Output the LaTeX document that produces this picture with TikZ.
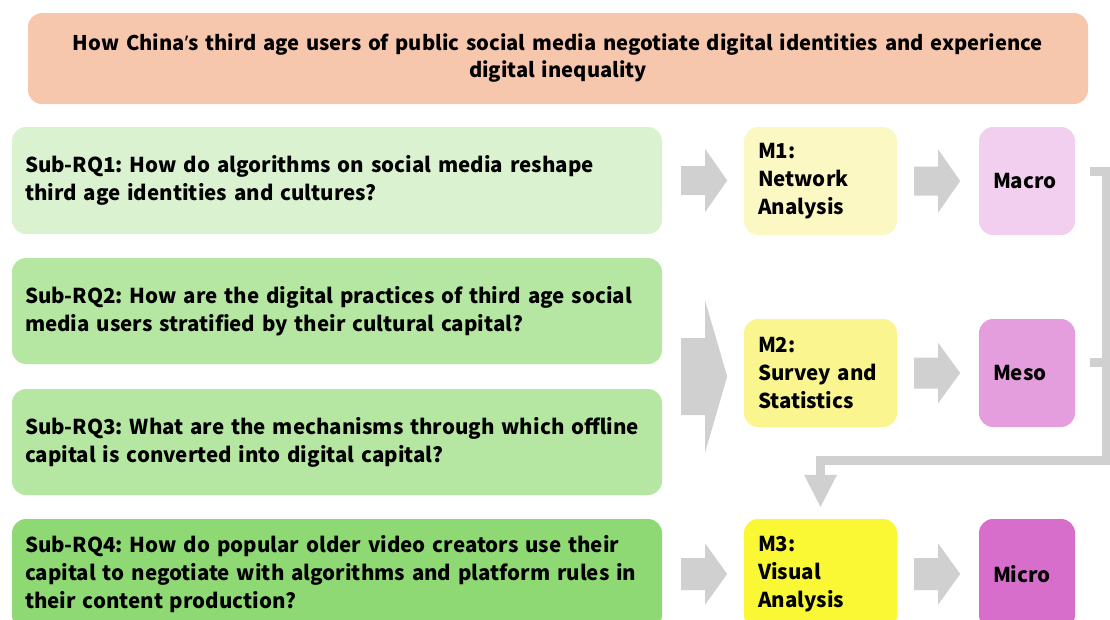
\documentclass[tikz,border=0pt]{standalone}
\usepackage{fontspec}
\setmainfont{Noto Sans CJK SC}
\newfontfamily\quotefont{Noto Sans}
\usetikzlibrary{arrows.meta,calc}

\definecolor{goalfill}{HTML}{F6C6AD}
\definecolor{rqA}{HTML}{DAF2D0}
\definecolor{rqB}{HTML}{B5E6A2}
\definecolor{rqC}{HTML}{8ED973}
\definecolor{mA}{HTML}{FBF8C4}
\definecolor{mB}{HTML}{FAF58E}
\definecolor{mC}{HTML}{FAF735}
\definecolor{lvA}{HTML}{F2CFEE}
\definecolor{lvB}{HTML}{E59EDD}
\definecolor{lvC}{HTML}{D86ECC}
\definecolor{arrowgrey}{HTML}{D0D0D0}

% block arrow: gap from anchor, anchor, half shaft, half head
\newcommand{\blockarrow}[4]{%
  \fill[arrowgrey] ($(#2)+(#1,-#3)$) -- ++(24,0) -- ++(0,#3-#4) -- ++(22,#4)
    -- ++(-22,#4) -- ++(0,#3-#4) -- ++(-24,0) -- cycle;}

\begin{document}
\frenchspacing
\begin{tikzpicture}[x=1pt,y=-1pt,
  txt/.style={font=\bfseries\fontsize{20.5}{28}\selectfont},
  box/.style={txt, rounded corners=14pt, inner ysep=0pt, inner xsep=13pt, align=left},
  goalbox/.style={box, fill=goalfill, text width=1034pt, minimum height=91pt, align=center,
    font=\bfseries\fontsize{20.2}{27}\selectfont},
  rqbox/.style={box, text width=624pt},
  mbox/.style={box, inner xsep=14pt, text width=125pt},
  lvbox/.style={box, inner xsep=14pt, text width=68pt},
]
\useasboundingbox (0,0) rectangle (1110,619);
\begin{scope}
\clip (0,0) rectangle (1110,619);

\node[goalbox] (goal) at (558,58.5)
  {How China{\quotefont ’}s third age users of public social media negotiate digital identities and experience\\digital inequality};

\node[rqbox, fill=rqA, minimum height=107pt] (rq1) at (337,180.5)
  {Sub-RQ1: How do algorithms on social media reshape\\third age identities and cultures?};
\node[rqbox, fill=rqB, minimum height=106pt] (rq2) at (337,311)
  {Sub-RQ2: How are the digital practices of third age social\\media users stratified by their cultural capital?};
\node[rqbox, fill=rqB, minimum height=106pt] (rq3) at (337,442)
  {Sub-RQ3: What are the mechanisms through which offline\\capital is converted into digital capital?};
\node[rqbox, fill=rqC, minimum height=110pt] (rq4) at (337,574)
  {Sub-RQ4: How do popular older video creators use their\\capital to negotiate with algorithms and platform rules in\\their content production?};

\node[mbox, fill=mA, minimum height=108pt] (m1) at (820.5,181) {M1:\\Network\\Analysis};
\node[mbox, fill=mB, minimum height=108pt] (m2) at (820.5,373) {M2:\\Survey and\\Statistics};
\node[mbox, fill=mC, minimum height=110pt] (m3) at (820.5,574) {M3:\\Visual\\Analysis};

\node[lvbox, fill=lvA, minimum height=108pt] (macro) at (1027,181) {Macro};
\node[lvbox, fill=lvB, minimum height=108pt] (meso) at (1027,373) {Meso};
\node[lvbox, fill=lvC, minimum height=110pt] (micro) at (1027,574) {Micro};

% block arrows from questions to methods
\coordinate (rq23) at ($(rq2.east)!0.5!(rq3.east)$);
\blockarrow{19}{rq1.east}{14.5}{31.5}
\blockarrow{19}{rq23}{38.5}{75.5}
\blockarrow{19}{rq4.east}{16}{30.5}

% block arrows from methods to levels
\blockarrow{17}{m1.east}{14.5}{31.5}
\blockarrow{17}{m2.east}{15.5}{30}
\blockarrow{17}{m3.east}{16}{30.5}

% feedback line from macro and meso levels down to M3
\coordinate (fbA) at ($(macro.east)+(15,-10)$);
\coordinate (fbB) at ($(meso.east)+(15,-11)$);
\coordinate (fbTop) at (1106,0 |- fbA);
\coordinate (fbMid) at (1106,460.5);
\coordinate (fbTurn) at (m3.north |- fbMid);
\coordinate (fbEnd) at ($(m3.north)+(0,-44)$);
\draw[arrowgrey, line width=9pt, line join=miter]
  (fbA) -- (fbTop) -- (fbMid) -- (fbTurn) -- (fbEnd);
\fill[arrowgrey] ($(fbEnd)+(-16.5,0)$) -- ($(fbEnd)+(16.5,0)$) -- ($(m3.north)+(0,-12)$) -- cycle;
\draw[arrowgrey, line width=9pt] (fbB) -- (fbB -| fbMid);
\end{scope}
\end{tikzpicture}
\end{document}
